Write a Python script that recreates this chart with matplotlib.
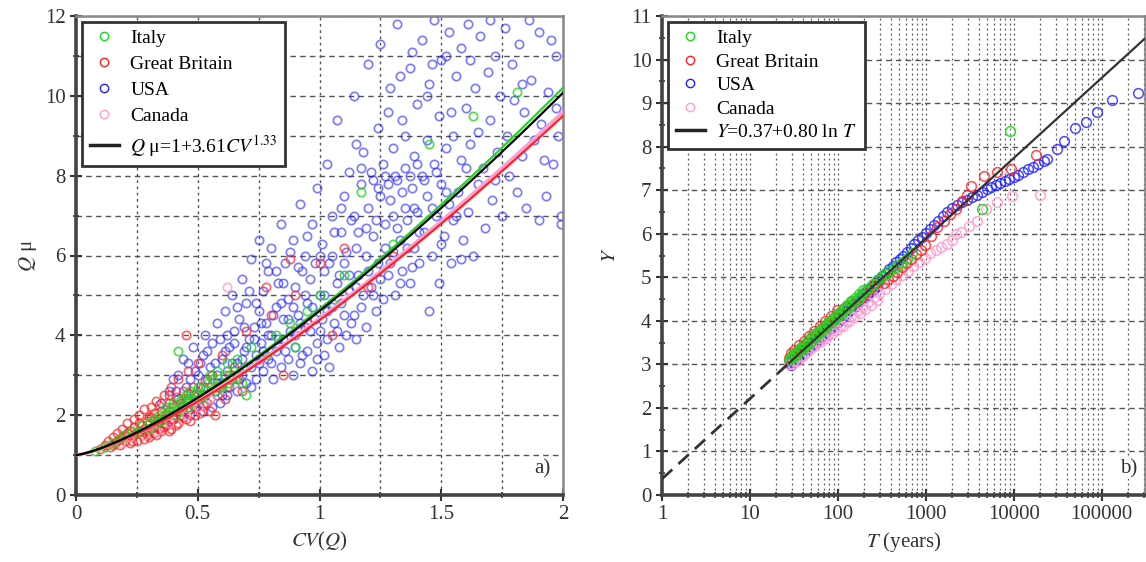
import numpy as np
import matplotlib
matplotlib.use("Agg")
import matplotlib.pyplot as plt
from matplotlib.ticker import MultipleLocator, LogLocator, NullFormatter, FixedLocator

plt.rcParams['font.family'] = ['Liberation Serif', 'DejaVu Serif']
plt.rcParams['mathtext.fontset'] = 'stix'

# ---- panel a) : Q_mu vs CV(Q) ----
usa_a = [(0.32,1.9),(0.35,2.3),(0.36,1.8),(0.38,2.6),(0.38,2.1),(0.40,2.9),(0.40,1.9),(0.42,2.4),(0.42,3.0),(0.44,2.2),
         (0.45,2.7),(0.46,3.3),(0.47,2.0),(0.48,2.5),(0.48,3.7),(0.50,2.3),(0.50,3.0),(0.51,2.7),(0.52,3.5),(0.52,2.1),
         (0.53,4.0),(0.54,2.9),(0.55,2.4),(0.55,3.2),(0.56,3.8),(0.57,2.6),(0.58,3.0),(0.58,4.3),(0.59,2.3),(0.60,3.4),
         (0.60,2.8),(0.61,4.6),(0.62,3.1),(0.62,2.5),(0.63,3.7),(0.64,5.0),(0.64,2.9),(0.65,4.1),(0.66,3.3),(0.66,2.6),
         (0.67,4.4),(0.68,3.0),(0.68,5.4),(0.69,3.6),(0.70,2.8),(0.70,4.8),(0.71,3.9),(0.72,3.2),(0.72,5.9),(0.73,4.2),
         (0.74,2.9),(0.74,3.5),(0.75,6.4),(0.75,4.6),(0.76,3.8),(0.77,5.1),(0.77,3.1),(0.78,4.3),(0.79,5.6),(0.79,3.4),
         (0.80,4.0),(0.80,6.2),(0.81,2.9),(0.82,4.7),(0.82,3.6),(0.83,5.3),(0.84,3.2),(0.84,6.8),(0.85,4.4),(0.85,3.9),
         (0.86,5.8),(0.87,3.4),(0.87,4.9),(0.88,4.1),(0.89,6.4),(0.89,3.0),(0.90,5.2),(0.90,3.7),(0.91,4.5),(0.92,7.3),
         (0.92,3.3),(0.93,5.6),(0.94,4.2),(0.94,6.0),(0.95,3.6),(0.95,4.8),(0.96,5.4),(0.97,3.1),(0.97,6.8),(0.98,4.4),
         (0.99,7.7),(0.99,3.8),(1.00,5.0),(1.00,4.1),(1.01,6.3),(1.02,3.5),(1.02,5.6),(1.03,8.3),(1.03,4.6),(1.04,3.2),
         (1.05,6.0),(1.05,7.0),(1.06,4.3),(1.07,5.3),(1.07,9.4),(1.08,3.7),(1.09,6.6),(1.09,4.8),(1.10,7.5),(1.10,5.8),
         (1.11,4.0),(1.12,8.1),(1.12,5.1),(1.13,6.9),(1.14,4.5),(1.14,10.0),(1.15,6.2),(1.15,3.9),(1.16,5.5),(1.17,7.8),
         (1.17,4.7),(1.18,8.6),(1.19,6.0),(1.19,4.2),(1.20,7.2),(1.20,10.8),(1.21,5.2),(1.22,7.9),(1.22,6.5),(1.23,4.6),
         (1.24,9.2),(1.24,5.8),(1.25,7.5),(1.25,11.3),(1.26,4.9),(1.27,6.8),(1.27,8.0),(1.28,5.5),(1.29,10.2),(1.29,7.4),
         (1.30,6.1),(1.30,8.7),(1.31,5.0),(1.32,7.9),(1.32,11.8),(1.33,6.4),(1.34,9.4),(1.34,5.6),(1.35,7.2),(1.35,8.2),
         (1.36,6.9),(1.37,10.7),(1.37,5.3),(1.38,7.7),(1.39,8.5),(1.39,6.2),(1.40,9.8),(1.40,7.1),(1.41,5.8),(1.42,11.4),
         (1.42,8.0),(1.43,6.6),(1.44,8.9),(1.44,7.5),(1.45,10.3),(1.45,4.6),(1.46,6.0),(1.47,8.3),(1.47,11.9),(1.48,7.0),
         (1.49,9.5),(1.49,5.3),(1.50,7.8),(1.50,10.9),(1.51,6.5),(1.52,8.7),(1.53,11.6),(1.53,7.3),(1.54,5.8),(1.55,9.0),
         (1.55,6.9),(1.56,10.5),(1.57,7.6),(1.58,8.4),(1.58,11.2),(1.59,6.4),(1.60,9.7),(1.61,7.1),(1.61,11.8),(1.62,8.8),
         (1.63,6.0),(1.64,10.2),(1.65,7.8),(1.65,9.1),(1.66,11.5),(1.67,8.2),(1.68,6.7),(1.69,10.6),(1.70,9.4),(1.71,7.4),
         (1.72,11.0),(1.73,8.6),(1.74,10.0),(1.75,7.0),(1.76,11.7),(1.77,9.0),(1.78,8.0),(1.79,10.8),(1.80,9.9),(1.81,7.6),
         (1.82,11.3),(1.83,8.5),(1.84,9.6),(1.85,7.2),(1.87,10.4),(1.88,8.9),(1.90,11.6),(1.91,9.3),(1.93,7.5),(1.94,10.1),
         (1.96,8.3),(1.97,11.0),(1.98,9.0),(1.99,7.0),(1.99,6.8),
         # denser core
         (0.41,2.6),(0.43,2.0),(0.44,3.4),(0.46,2.4),(0.47,2.9),(0.49,3.1),(0.49,2.2),(0.51,3.3),(0.53,2.5),(0.54,3.6),
         (0.56,2.2),(0.57,3.3),(0.58,2.8),(0.59,3.9),(0.60,2.5),(0.61,3.6),(0.62,4.0),(0.63,2.7),(0.64,3.3),(0.65,3.8),
         (0.66,4.7),(0.67,2.9),(0.68,3.4),(0.69,4.2),(0.70,3.7),(0.71,5.1),(0.72,2.7),(0.73,3.9),(0.74,4.8),(0.75,3.3),
         (0.76,4.3),(0.77,3.6),(0.78,5.8),(0.79,4.0),(0.80,3.3),(0.81,4.5),(0.82,5.6),(0.83,3.9),(0.84,4.8),(0.85,5.3),
         (0.86,3.6),(0.87,4.4),(0.88,6.1),(0.89,4.7),(0.90,4.0),(0.91,5.7),(0.92,4.3),(0.93,3.5),(0.94,5.0),(0.95,6.5),
         (0.96,4.1),(0.97,4.7),(0.98,5.8),(0.99,3.4),(1.00,6.0),(1.01,4.4),(1.02,5.0),(1.03,3.9),(1.04,5.8),(1.05,4.7),
         (1.06,6.6),(1.07,4.1),(1.08,5.5),(1.09,7.2),(1.10,4.5),(1.11,6.1),(1.12,5.5),(1.13,4.3),(1.14,7.0),(1.15,5.2),
         (1.16,6.6),(1.17,8.2),(1.18,5.0),(1.19,6.7),(1.20,5.6),(1.21,8.1),(1.22,5.0),(1.23,6.9),(1.24,7.7),(1.25,5.4),
         (1.26,8.3),(1.27,6.2),(1.28,7.8),(1.29,5.8),(1.30,7.0),(1.31,8.0),(1.32,6.7),(1.33,5.3),(1.34,7.6),(1.35,9.0),
         (1.36,6.2),(1.37,8.0),(1.38,5.7),(1.39,7.2),(1.40,8.3),(1.41,6.6),(1.43,7.9),(1.44,10.0),(1.46,7.2),(1.48,8.1),
         (1.50,6.3),(1.52,7.6),(1.54,9.6),(1.56,7.0),(1.58,5.9),(1.60,8.2),(1.15,8.8),(1.28,9.6),(1.33,10.5),(1.38,11.1),
         (1.46,10.8),(1.52,11.0),(1.62,10.9),(1.70,11.9),(1.86,11.9),(1.92,8.4),(1.95,11.4),(1.90,6.9),(1.72,7.9),
         (1.83,10.3),(1.97,9.7)]

gb_a = [(0.10,1.15),(0.12,1.25),(0.13,1.35),(0.14,1.2),(0.15,1.45),(0.16,1.3),(0.17,1.55),(0.18,1.25),(0.18,1.4),
        (0.19,1.65),(0.20,1.35),(0.20,1.5),(0.21,1.8),(0.22,1.3),(0.22,1.6),(0.23,1.45),(0.24,1.9),(0.24,1.7),
        (0.25,1.35),(0.25,1.55),(0.26,2.0),(0.27,1.5),(0.27,1.75),(0.28,1.4),(0.28,2.15),(0.29,1.85),(0.30,1.6),
        (0.30,1.45),(0.31,2.2),(0.31,1.95),(0.32,1.7),(0.33,1.5),(0.33,2.35),(0.34,1.85),(0.35,2.1),(0.35,1.6),
        (0.36,2.5),(0.37,1.75),(0.37,2.0),(0.38,2.3),(0.39,1.65),(0.39,2.7),(0.40,1.9),(0.40,2.2),(0.41,2.45),
        (0.42,1.8),(0.42,2.9),(0.43,2.1),(0.44,2.6),(0.45,1.9),(0.45,2.35),(0.46,3.1),(0.47,2.15),(0.48,2.7),
        (0.49,2.0),(0.50,2.5),(0.50,3.3),(0.52,2.25),(0.53,2.85),(0.55,2.1),(0.56,3.0),(0.58,2.5),(0.60,3.5),
        (0.62,2.7),(0.65,3.2),(0.68,2.6),(0.70,4.1),(0.75,3.4),(0.80,4.5),(0.85,3.0),(0.90,5.0),(0.95,4.3),
        (1.00,5.8),(1.05,4.0),(1.10,6.2),(1.20,5.2),(1.30,6.0),(0.78,5.2),(0.88,5.9),(0.45,4.0),
        (0.15,1.25),(0.17,1.35),(0.19,1.45),(0.21,1.55),(0.23,1.35),(0.24,1.5),(0.26,1.6),(0.26,1.8),(0.28,1.65),
        (0.29,1.5),(0.30,1.95),(0.32,2.05),(0.32,1.55),(0.34,1.65),(0.34,2.25),(0.36,1.9),(0.36,1.7),(0.38,1.6),
        (0.38,2.5),(0.40,2.0),(0.41,1.75),(0.43,2.3),(0.44,1.95),(0.46,2.55),(0.47,1.85),(0.48,2.25),(0.51,2.05),
        (0.52,2.7),(0.54,2.3),(0.57,2.0),(0.58,2.7),(0.61,2.4),(0.63,3.0),(0.66,2.9)]

italy_a = [(0.08,1.1),(0.12,1.2),(0.15,1.3),(0.18,1.4),(0.20,1.5),(0.23,1.6),(0.25,1.55),(0.27,1.75),(0.30,1.8),
           (0.32,1.9),(0.34,2.0),(0.35,1.85),(0.37,2.2),(0.38,2.1),(0.40,2.3),(0.41,2.0),(0.42,3.6),(0.43,2.4),
           (0.44,2.25),(0.45,2.5),(0.46,2.2),(0.47,2.6),(0.48,2.4),(0.50,2.7),(0.52,2.5),(0.54,2.8),(0.55,3.0),
           (0.57,2.6),(0.58,3.1),(0.60,2.7),(0.62,3.3),(0.64,2.9),(0.66,3.4),(0.70,3.2),(0.72,3.7),(0.78,3.5),
           (0.82,4.0),(0.88,4.3),(0.95,4.6),(1.00,5.0),(1.05,4.8),(1.10,5.5),(1.17,7.6),(1.30,6.3),(1.45,8.8),
           (1.63,9.5),(1.81,10.1),(0.70,2.5),(0.90,3.7),
           (0.30,1.65),(0.33,1.8),(0.36,2.0),(0.39,2.2),(0.42,2.15),(0.44,2.4),(0.46,2.35),(0.49,2.55),(0.51,2.4),
           (0.53,2.65),(0.56,2.9),(0.59,2.75),(0.61,3.0),(0.63,2.8),(0.65,3.1),(0.68,2.8)]

canada_a = [(0.12,1.2),(0.18,1.3),(0.22,1.45),(0.28,1.5),(0.33,1.6),(0.38,1.8),(0.45,2.0),(0.50,2.2),
            (0.55,2.4),(0.65,2.8),(0.75,3.4),(0.90,4.2),(1.10,5.0),(0.62,5.2)]

# fitted curves Q = 1 + a * CV^b  (a, b)
fit_all = (3.61, 1.33)
fit_italy = (3.66, 1.33)
fit_gb = (3.38, 1.33)
fit_canada = (3.42, 1.33)

# ---- panel b) : Y vs T ----
usa_T = [28,30,32,34,36,38,40,43,46,50,54,58,63,68,74,80,87,95,103,112,122,133,145,158,172,188,205,224,245,268,
         293,320,350,383,420,460,505,555,610,670,740,815,900,1000,1110,1240,1390,1560,1760,2000,2280,2600,2950,
         3350,3800,4300,4900,5500,6200,7000,7900,8900,10000,11300,12800,14500,16500,19000,22000,24000,31000,
         37000,50000,66000,88000,130000,260000,
         29,31,33,35,37,39,42,45,48,52,56,61,66,71,77,84,91,99,108,118,128,139,151,165,180,196,214,234,256,280]
usa_Y = [3.03,3.08,3.14,3.19,3.24,3.28,3.32,3.38,3.43,3.5,3.56,3.62,3.68,3.75,3.81,3.88,3.94,4.01,4.08,4.15,4.22,
         4.29,4.36,4.43,4.5,4.57,4.64,4.72,4.8,4.87,4.95,5.03,5.1,5.18,5.26,5.34,5.42,5.5,5.59,5.67,5.76,5.85,5.93,
         6.02,6.11,6.2,6.3,6.4,6.5,6.6,6.66,6.72,6.78,6.84,6.9,6.96,7.02,7.07,7.12,7.17,7.21,7.26,7.31,7.36,7.42,
         7.48,7.54,7.6,7.67,7.72,7.95,8.13,8.43,8.57,8.8,9.08,9.24,
         2.99,3.05,3.10,3.14,3.19,3.23,3.29,3.35,3.40,3.46,3.52,3.59,3.65,3.71,3.78,3.84,3.91,3.98,4.05,4.12,4.18,
         4.25,4.31,4.38,4.45,4.52,4.59,4.66,4.74,4.81]

gb_T = [28,31,35,39,44,50,56,63,71,80,90,101,114,128,144,162,182,205,231,260,293,330,371,418,470,530,600,680,770,
        870,990,1150,1350,1600,1900,2200,2600,2950,3300,4600,6400,9300,18000,
        29,32,36,41,47,54,62,72,84,98]
gb_Y = [3.14,3.22,3.31,3.4,3.5,3.6,3.69,3.78,3.88,3.97,4.07,4.16,4.26,4.35,4.45,4.44,4.53,4.63,4.73,4.82,4.91,4.86,
        4.95,5.04,5.13,5.23,5.33,5.43,5.53,5.63,5.73,5.95,6.15,6.3,6.45,6.57,6.75,6.9,7.1,7.33,7.42,7.49,7.81,
        3.26,3.34,3.44,3.54,3.65,3.76,3.87,3.99,4.11,4.24]

italy_T = [28,30,33,36,40,44,49,54,60,66,73,81,90,100,111,123,136,151,167,185,205,227,252,280,310,345,385,430,480,
           540,610,700,4300,9000,
           29,31,34,37,41,46,51,57,63,70,78,86,95,105,116,128,142,157,174,193]
italy_Y = [3.09,3.14,3.21,3.28,3.37,3.45,3.53,3.61,3.7,3.77,3.85,3.94,4.02,4.1,4.19,4.27,4.35,4.43,4.51,4.6,4.68,
           4.76,4.84,4.93,5.0,5.08,5.15,5.22,5.28,5.36,5.45,5.55,6.57,8.36,
           3.18,3.24,3.31,3.38,3.46,3.55,3.64,3.72,3.80,3.89,3.98,4.05,4.13,4.21,4.29,4.37,4.45,4.53,4.62,4.70]

canada_T = [28,32,37,43,50,58,67,78,90,105,122,141,164,190,220,255,296,343,398,461,535,620,720,835,970,1120,1300,
            1500,1750,2000,2200,2500,3100,3800,4800,6500,9500,20000,
            30,34,40,46,54,63,73,85,98,114,132,153,177,205,238,276]
canada_Y = [3.0,3.08,3.18,3.29,3.38,3.48,3.58,3.68,3.79,3.89,4.0,4.1,4.22,4.32,4.43,4.54,4.63,4.74,4.84,4.95,5.05,
            5.15,5.25,5.35,5.45,5.55,5.63,5.7,5.76,5.85,6.0,6.05,6.18,6.3,6.57,6.72,6.87,6.9,
            3.0,3.08,3.2,3.3,3.42,3.52,3.61,3.71,3.80,3.89,3.99,4.08,4.17,4.27,4.37,4.47]

# Y = a + b ln T
fit_Y = (0.37, 0.80)
T_split = 28

C_IT = '#1fd81f'
C_GB = '#ff2020'
C_US = '#2020ff'
C_CA = '#ff9fcf'

fig = plt.figure(figsize=(11.46, 5.62), dpi=100)
ax1 = fig.add_axes([76/1146, 1-495/562, (563-76)/1146, (495-16)/562])
ax2 = fig.add_axes([662/1146, 1-495/562, (1145-662)/1146, (495-16)/562])

FS = 15
LFS = 14


def style_axes(ax):
    for s in ['left', 'bottom']:
        ax.spines[s].set_linewidth(2.6)
        ax.spines[s].set_color('#444444')
    for s in ['top', 'right']:
        ax.spines[s].set_linewidth(1.8)
        ax.spines[s].set_color('#888888')
    ax.tick_params(which='major', direction='inout', length=8, width=1.5, labelsize=FS, colors='#333333')
    ax.tick_params(which='minor', direction='inout', length=5, width=1.2, colors='#333333')
    ax.tick_params(top=False, right=False, which='both')


def pts(ax, data, color, ms, alpha, z):
    x = [p[0] for p in data]
    y = [p[1] for p in data]
    ax.plot(x, y, ls='none', marker='o', ms=ms, mfc='none', mec=color, mew=1.2, alpha=alpha, zorder=z)


def add_legend(ax, line_label, spacing):
    ax.plot([], [], ls='none', marker='o', ms=6, mfc='none', mec=C_IT, label='Italy')
    ax.plot([], [], ls='none', marker='o', ms=6, mfc='none', mec=C_GB, label='Great Britain')
    ax.plot([], [], ls='none', marker='o', ms=6, mfc='none', mec=C_US, label='USA')
    ax.plot([], [], ls='none', marker='o', ms=6, mfc='none', mec=C_CA, label='Canada')
    ax.plot([], [], color='#222222', lw=2.5, label=line_label)
    leg = ax.legend(loc='upper left', fontsize=LFS, frameon=True, fancybox=False, borderaxespad=0.3,
                    handlelength=1.5, handletextpad=0.6, labelspacing=spacing, borderpad=0.4, framealpha=1)
    leg.get_frame().set_edgecolor('#333333')
    leg.get_frame().set_linewidth(2.0)


# ---------- panel a ----------
ax = ax1
pts(ax, usa_a, C_US, 6, 0.6, 2)
pts(ax, gb_a, C_GB, 6, 0.7, 3)
pts(ax, canada_a, C_CA, 6, 0.8, 3)
pts(ax, italy_a, C_IT, 6, 0.8, 4)

cv = np.linspace(0, 2, 200)
for (a, b), col, lw in [(fit_canada, C_CA, 2.5), (fit_gb, C_GB, 1.6), (fit_italy, C_IT, 1.6)]:
    ax.plot(cv, 1 + a * cv ** b, color=col, lw=lw, zorder=5)
ax.plot(cv, 1 + fit_all[0] * cv ** fit_all[1], color='black', lw=1.6, zorder=6)

ax.set_xlim(0, 2)
ax.set_ylim(0, 12)
ax.xaxis.set_major_locator(FixedLocator([0, 0.5, 1, 1.5, 2]))
ax.set_xticklabels(['0', '0.5', '1', '1.5', '2'])
ax.xaxis.set_minor_locator(MultipleLocator(0.25))
ax.yaxis.set_major_locator(MultipleLocator(2))
ax.yaxis.set_minor_locator(MultipleLocator(1))
ax.grid(True, which='both', axis='y', ls=(0, (4, 3)), color='#555555', lw=1.0)
ax.grid(True, which='both', axis='x', ls=(0, (2, 2.5)), color='#555555', lw=1.0)
ax.set_axisbelow(True)
style_axes(ax)
ax.set_xlabel(r'$CV$($Q$)', fontsize=FS, color='#333333', labelpad=4)
ax.set_ylabel(r'$Q$ μ', fontsize=FS, color='#333333', labelpad=4)
ax.text(0.975, 0.035, 'a)', transform=ax.transAxes, ha='right', va='bottom', fontsize=FS, color='#333333')
add_legend(ax, r'$Q$ μ=1+3.61$CV^{1.33}$', 0.42)

# ---------- panel b ----------
ax = ax2
ax.set_xscale('log')
ax.plot(usa_T, usa_Y, ls='none', marker='o', ms=7, mfc='none', mec=C_US, mew=1.1, alpha=0.8, zorder=2)
ax.plot(canada_T, canada_Y, ls='none', marker='o', ms=7, mfc='none', mec=C_CA, mew=1.1, alpha=0.9, zorder=3)
ax.plot(gb_T, gb_Y, ls='none', marker='o', ms=7, mfc='none', mec=C_GB, mew=1.1, alpha=0.8, zorder=4)
ax.plot(italy_T, italy_Y, ls='none', marker='o', ms=7, mfc='none', mec=C_IT, mew=1.1, alpha=0.9, zorder=5)

T_lo = np.logspace(0, np.log10(T_split), 50)
T_hi = np.logspace(np.log10(T_split), 6, 100)
ax.plot(T_lo, fit_Y[0] + fit_Y[1] * np.log(T_lo), color='#333333', lw=2, ls=(0, (5, 3)), zorder=6)
ax.plot(T_hi, fit_Y[0] + fit_Y[1] * np.log(T_hi), color='#333333', lw=1.6, zorder=6)

ax.set_xlim(1, 3.1e5)
ax.set_ylim(0, 11)
ax.xaxis.set_minor_locator(LogLocator(base=10, subs=np.arange(2, 10), numticks=20))
ax.xaxis.set_minor_formatter(NullFormatter())
ax.set_xticks([1, 10, 100, 1000, 10000, 100000])
ax.set_xticklabels(['1', '10', '100', '1000', '10000', '100000'])
ax.yaxis.set_major_locator(MultipleLocator(1))
ax.yaxis.set_minor_locator(MultipleLocator(0.5))
ax.grid(True, which='major', axis='y', ls=(0, (4, 3)), color='#555555', lw=1.0)
ax.grid(True, which='both', axis='x', ls=(0, (1.5, 2.5)), color='#555555', lw=0.9)
ax.set_axisbelow(True)
style_axes(ax)
ax.set_xlabel(r'$T$ (years)', fontsize=FS, color='#333333', labelpad=4)
ax.set_ylabel(r'$Y$', fontsize=FS, color='#333333', labelpad=8)
ax.text(0.985, 0.035, 'b)', transform=ax.transAxes, ha='right', va='bottom', fontsize=FS, color='#333333',
        bbox=dict(facecolor='white', edgecolor='none', pad=0.5))
add_legend(ax, r'$Y$=0.37+0.80 ln $T$', 0.3)

fig.savefig('out.png', dpi=100)
